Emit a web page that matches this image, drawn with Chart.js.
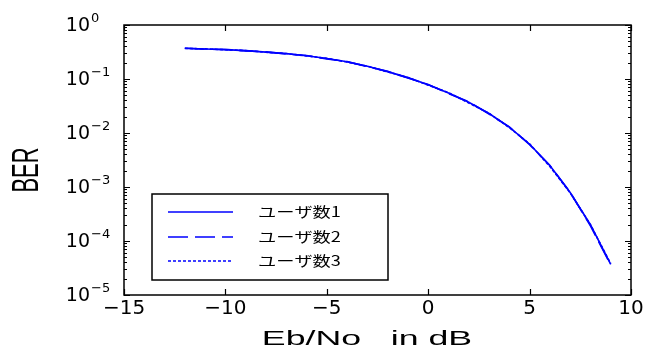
<!DOCTYPE html>
<html>
<head>
<meta charset="utf-8">
<script src="https://cdn.jsdelivr.net/npm/chart.js@4"></script>
<style>
  body { margin: 0; background: #fff; }
  #wrap { width: 646px; height: 358px; }
</style>
</head>
<body>
<div id="wrap"><canvas id="berChart"></canvas></div>
<script>
// Eb/No (dB) sample points
const ebno = [-12, -11, -10, -9, -8, -7, -6, -5, -4, -3, -2, -1, 0, 1, 2, 3, 4, 5, 6, 7, 8, 9];
// BER per number of users (curves lie almost on top of each other)
const ber1 = [0.37, 0.36, 0.35, 0.335, 0.315, 0.295, 0.27, 0.24, 0.208, 0.172, 0.137, 0.106, 0.078, 0.055, 0.037, 0.023, 0.0128, 0.0062, 0.0025, 0.00079, 0.0002, 0.000037];
const ber2 = [0.372, 0.358, 0.352, 0.332, 0.318, 0.291, 0.272, 0.236, 0.21, 0.17, 0.139, 0.104, 0.079, 0.054, 0.038, 0.0225, 0.013, 0.0061, 0.0025, 0.0008, 0.00019, 0.000036];
const ber3 = [0.368, 0.361, 0.348, 0.336, 0.313, 0.296, 0.268, 0.241, 0.206, 0.173, 0.135, 0.107, 0.077, 0.056, 0.036, 0.0232, 0.0126, 0.0063, 0.0024, 0.00078, 0.0002, 0.000038];
const seriesNames = ["ユーザ数1", "ユーザ数2", "ユーザ数3"];
const xTicks = [-15, -10, -5, 0, 5, 10];
const yDecades = [0, -1, -2, -3, -4, -5];

const blue = "#0000ff";

function toPoints(ys) {
    return ebno.map((x, i) => ({ x: x, y: ys[i] }));
}

// frame, inward ticks, y labels, axis titles and the boxed legend
const framePlugin = {
    id: "frame",
    afterDraw(chart) {
        const ctx = chart.ctx;
        const a = chart.chartArea;
        const x = chart.scales.x;
        const y = chart.scales.y;
        ctx.save();
        ctx.strokeStyle = "#000";
        ctx.lineWidth = 1.5;
        ctx.strokeRect(a.left, a.top, a.right - a.left, a.bottom - a.top);

        ctx.lineWidth = 1.2;
        ctx.beginPath();
        xTicks.forEach(v => {
            const px = Math.round(x.getPixelForValue(v)) + 0.5;
            ctx.moveTo(px, a.bottom); ctx.lineTo(px, a.bottom - 6);
            ctx.moveTo(px, a.top); ctx.lineTo(px, a.top + 6);
        });
        for (let e = -5; e <= 0; e++) {
            for (let m = 1; m <= 9; m++) {
                const v = m * Math.pow(10, e);
                if (v > 1) break;
                const py = Math.round(y.getPixelForValue(v)) + 0.5;
                const len = m === 1 ? 6 : 3;
                ctx.moveTo(a.left, py); ctx.lineTo(a.left + len, py);
                ctx.moveTo(a.right, py); ctx.lineTo(a.right - len, py);
            }
        }
        ctx.stroke();

        // y tick labels 10^n
        ctx.fillStyle = "#000";
        yDecades.forEach(e => {
            const py = y.getPixelForValue(Math.pow(10, e));
            ctx.font = "19px 'DejaVu Sans'";
            ctx.textAlign = "right";
            ctx.textBaseline = "middle";
            ctx.fillText("10", 90, py + 1);
            ctx.font = "13px 'DejaVu Sans'";
            ctx.textAlign = "left";
            ctx.textBaseline = "alphabetic";
            ctx.fillText(e === 0 ? "0" : "\u2212" + (-e), 91, py - 3);
        });

        // y axis title, rotated and widened
        ctx.save();
        ctx.translate(28, 170);
        ctx.scale(1.7, 1);
        ctx.rotate(-Math.PI / 2);
        ctx.font = "22px 'Liberation Sans'";
        ctx.textAlign = "center";
        ctx.textBaseline = "middle";
        ctx.fillText("BER", 0, 0);
        ctx.restore();

        // x axis title
        ctx.save();
        ctx.translate(367, 339);
        ctx.scale(1.7, 1);
        ctx.font = "21px 'Liberation Sans'";
        ctx.textAlign = "center";
        ctx.textBaseline = "middle";
        ctx.fillText("Eb/No   in dB", 0, 0);
        ctx.restore();

        // legend
        ctx.lineWidth = 1.5;
        ctx.strokeStyle = "#000";
        ctx.strokeRect(152, 194, 236, 86);
        const rows = [212, 237, 261];
        chart.data.datasets.forEach((ds, i) => {
            ctx.save();
            ctx.strokeStyle = ds.borderColor;
            ctx.lineWidth = ds.borderWidth;
            ctx.setLineDash(ds.borderDash || []);
            ctx.beginPath();
            ctx.moveTo(168, rows[i]);
            ctx.lineTo(233, rows[i]);
            ctx.stroke();
            ctx.restore();
            ctx.save();
            ctx.translate(258, rows[i]);
            ctx.scale(1.3, 1);
            ctx.fillStyle = "#000";
            ctx.font = "14px 'Noto Sans CJK JP'";
            ctx.textAlign = "left";
            ctx.textBaseline = "middle";
            ctx.fillText(ds.label, 0, 0);
            ctx.restore();
        });
        ctx.restore();
    }
};

const chart = new Chart(document.getElementById("berChart"), {
    type: "line",
    data: {
        datasets: [
            { label: seriesNames[0], data: toPoints(ber1), borderColor: blue, borderWidth: 1.6, pointRadius: 0, tension: 0 },
            { label: seriesNames[1], data: toPoints(ber2), borderColor: blue, borderWidth: 1.6, borderDash: [20, 7], pointRadius: 0, tension: 0 },
            { label: seriesNames[2], data: toPoints(ber3), borderColor: blue, borderWidth: 1.6, borderDash: [3, 2], pointRadius: 0, tension: 0 }
        ]
    },
    options: {
        responsive: true,
        maintainAspectRatio: false,
        animation: false,
        layout: { padding: { top: 25, right: 15, left: 0, bottom: 0 } },
        plugins: { legend: { display: false }, tooltip: { enabled: false } },
        scales: {
            x: {
                type: "linear",
                min: -15,
                max: 10,
                afterBuildTicks: s => { s.ticks = xTicks.map(v => ({ value: v })); },
                afterFit: s => { s.height = 63; },
                grid: { display: false, drawTicks: false },
                border: { display: false },
                ticks: {
                    autoSkip: false,
                    maxRotation: 0,
                    padding: 2,
                    color: "#000",
                    font: { family: "DejaVu Sans", size: 20 },
                    callback: v => (v < 0 ? "\u2212" + (-v) : String(v))
                }
            },
            y: {
                type: "logarithmic",
                min: 1e-5,
                max: 1,
                afterFit: s => { s.width = 124; },
                grid: { display: false, drawTicks: false },
                border: { display: false },
                ticks: { display: false }
            }
        }
    },
    plugins: [framePlugin]
});
</script>
</body>
</html>
